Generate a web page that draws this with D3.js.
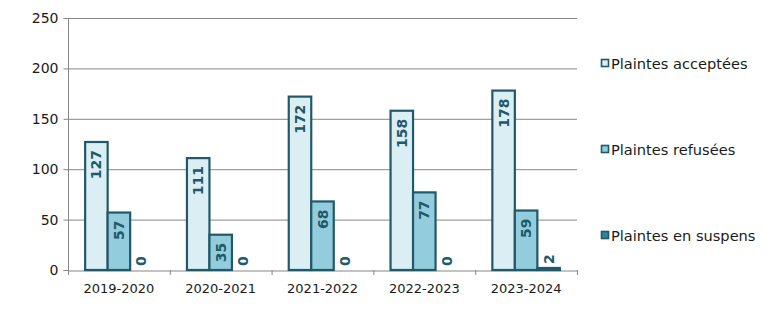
<!DOCTYPE html>
<html><head><meta charset="utf-8">
<script src="https://cdn.jsdelivr.net/npm/d3@7"></script>
<style>body{margin:0;background:#fff}svg{display:block}</style>
</head><body>
<script>
const categories = ["2019-2020","2020-2021","2021-2022","2022-2023","2023-2024"];
const seriesNames = ["Plaintes acceptées","Plaintes refusées","Plaintes en suspens"];
const accepted = [127,111,172,158,178];
const refused = [57,35,68,77,59];
const pending = [0,0,0,0,2];
const yTicks = [0,50,100,150,200,250];
const colors = ["#dbeef4","#93cddd","#31859c"];
const stroke = "#215968";

(function(){
const W=777,H=321;
const svg=d3.select("body").append("svg").attr("width",W).attr("height",H);
const pL=68,pR=577,pT=18,pB=270;
const font="'DejaVu Sans', sans-serif";

const x=d3.scaleBand().domain(categories).range([pL,pR]);
const y=d3.scaleLinear().domain([0,250]).range([pB,pT]);
const barW=22.5;
const inner=d3.scaleBand().domain([0,1,2]).range([0,barW*3]);
const groupOffset=(x.bandwidth()-barW*3)/2;

// grid
svg.append("g").selectAll("line").data(yTicks.filter(d=>d>0)).join("line")
  .attr("x1",pL).attr("x2",pR).attr("y1",d=>y(d)+0.5).attr("y2",d=>y(d)+0.5)
  .attr("stroke","#878787").attr("stroke-width",1);

// y axis
const ya=svg.append("g").attr("transform",`translate(${pL+0.5},0)`)
  .call(d3.axisLeft(y).tickValues(yTicks).tickSize(5).tickPadding(5));
ya.select(".domain").attr("stroke","#878787").attr("d",`M-5,${y(250)+0.5}H0V${pB+0.5}H-5`);
ya.selectAll(".tick line").attr("stroke","#878787");
ya.selectAll("text").attr("font-family",font).attr("font-size",14).attr("fill","#1a1a1a");

// x axis
const xa=svg.append("g").attr("transform",`translate(0,${pB+0.5})`)
  .call(d3.axisBottom(x).tickSize(0).tickPadding(13));
xa.select(".domain").attr("stroke","#878787");
xa.selectAll("text").attr("font-family",font).attr("font-size",13).attr("fill","#1a1a1a");
svg.append("g").selectAll("line").data(d3.range(categories.length+1)).join("line")
  .attr("x1",i=>pL+i*x.step()+0.5).attr("x2",i=>pL+i*x.step()+0.5)
  .attr("y1",pB).attr("y2",pB+5).attr("stroke","#878787");

const series=[accepted,refused,pending];
series.forEach((vals,si)=>{
  const g=svg.append("g");
  g.selectAll("rect").data(vals).join("rect")
    .attr("x",(d,i)=>x(categories[i])+groupOffset+inner(si))
    .attr("y",d=>y(d))
    .attr("width",inner.bandwidth())
    .attr("height",d=>y(0)-y(d))
    .attr("fill",colors[si]).attr("stroke",stroke).attr("stroke-width",2.2);
  g.selectAll("text").data(vals).join("text")
    .attr("transform",(d,i)=>{
      const cx=x(categories[i])+groupOffset+inner(si)+inner.bandwidth()/2+5;
      const h=y(0)-y(d);
      const ty = h>30 ? y(d)+8 : y(d)-4;
      return `translate(${cx},${ty}) rotate(-90)`;
    })
    .attr("text-anchor",d=>(y(0)-y(d))>30?"end":"start")
    .attr("font-family",font).attr("font-weight","bold").attr("font-size",14)
    .attr("fill","#215968").text(d=>d);
});

// legend
const lg=svg.append("g");
const ly=[63.5,149.5,235.5];
seriesNames.forEach((n,i)=>{
  lg.append("rect").attr("x",601.5).attr("y",ly[i]-4).attr("width",7).attr("height",7)
    .attr("fill",colors[i]).attr("stroke",stroke).attr("stroke-width",1.6);
  lg.append("text").attr("x",611).attr("y",ly[i]+5).attr("font-family",font)
    .attr("font-size",14.6).attr("fill","#1a1a1a").text(n);
});
})();
</script>
</body></html>
